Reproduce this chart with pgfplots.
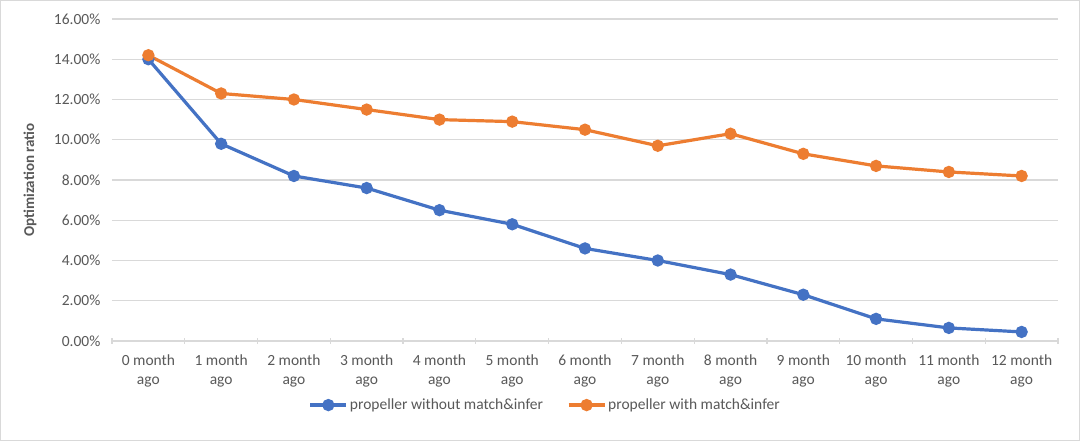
\documentclass[border=0pt]{standalone}
\usepackage{fontspec}
\setmainfont{Carlito}
\usepackage{pgfplots}
\pgfplotsset{compat=1.18}
\definecolor{exblue}{HTML}{4472C4}
\definecolor{exorange}{HTML}{ED7D31}
\definecolor{gridgray}{HTML}{D9D9D9}
\definecolor{txt}{HTML}{595959}

\begin{document}
\begin{tikzpicture}[x=1pt,y=1pt]
% outer chart border (1px = 1pt)
\draw[gridgray, line width=1.2pt, fill=white] (0.6,0.6) rectangle (1079.4,440.4);
\begin{axis}[
  at={(112pt,100pt)}, anchor=south west,
  scale only axis, width=946pt, height=322pt,
  xmin=-0.5, xmax=12.5, ymin=0, ymax=16,
  axis y line=left, axis x line=bottom,
  y axis line style={draw=none},
  x axis line style={gridgray, line width=1.2pt, -},
  xtick={0,...,12},
  xticklabels={0 month\\ago,1 month\\ago,2 month\\ago,3 month\\ago,4 month\\ago,5 month\\ago,6 month\\ago,7 month\\ago,8 month\\ago,9 month\\ago,10 month\\ago,11 month\\ago,12 month\\ago},
  xticklabel style={align=center, font=\fontsize{15.5}{19}\selectfont, text=txt, yshift=-8pt},
  major x tick style={draw=none},
  minor xtick={-0.5,0.5,...,12.5},
  minor x tick style={gridgray, line width=1.2pt},
  minor tick length=6pt,
  ytick={0,2,...,16},
  ymajorgrids, grid style={gridgray, line width=1.2pt},
  major y tick style={draw=none},
  yticklabel={\pgfmathprintnumber[fixed,fixed zerofill,precision=2]{\tick}\%},
  yticklabel style={font=\fontsize{15.5}{18}\selectfont, text=txt, xshift=-6pt},
  /pgf/number format/assume math mode=true,
  ylabel={\textbf{Optimization ratio}},
  every axis y label/.style={at={(-82pt,0.5)}, rotate=90, anchor=center,
    font=\fontsize{15}{18}\selectfont, text=txt},
  legend columns=2,
  legend style={at={(0.458,-0.199)}, anchor=center, draw=none, fill=none,
    font=\fontsize{15.5}{18}\selectfont, text=txt,
    /tikz/every even column/.append style={column sep=22pt}},
  legend image code/.code={\draw[mark repeat=2,mark phase=2] plot coordinates {(0pt,0pt) (18pt,0pt) (36pt,0pt)};},
  clip=false,
]
\addplot[exblue, line width=3.2pt, mark=*, mark size=4.5pt, mark options={solid}] coordinates {
(0,14.0) (1,9.8) (2,8.2) (3,7.6) (4,6.5) (5,5.8) (6,4.6) (7,4.0) (8,3.3) (9,2.3) (10,1.1) (11,0.65) (12,0.45)};
\addlegendentry{propeller without match\&infer}
\addplot[exorange, line width=3.2pt, mark=*, mark size=4.5pt, mark options={solid}] coordinates {
(0,14.2) (1,12.3) (2,12.0) (3,11.5) (4,11.0) (5,10.9) (6,10.5) (7,9.7) (8,10.3) (9,9.3) (10,8.7) (11,8.4) (12,8.2)};
\addlegendentry{propeller with match\&infer}
\end{axis}
\end{tikzpicture}
\end{document}
